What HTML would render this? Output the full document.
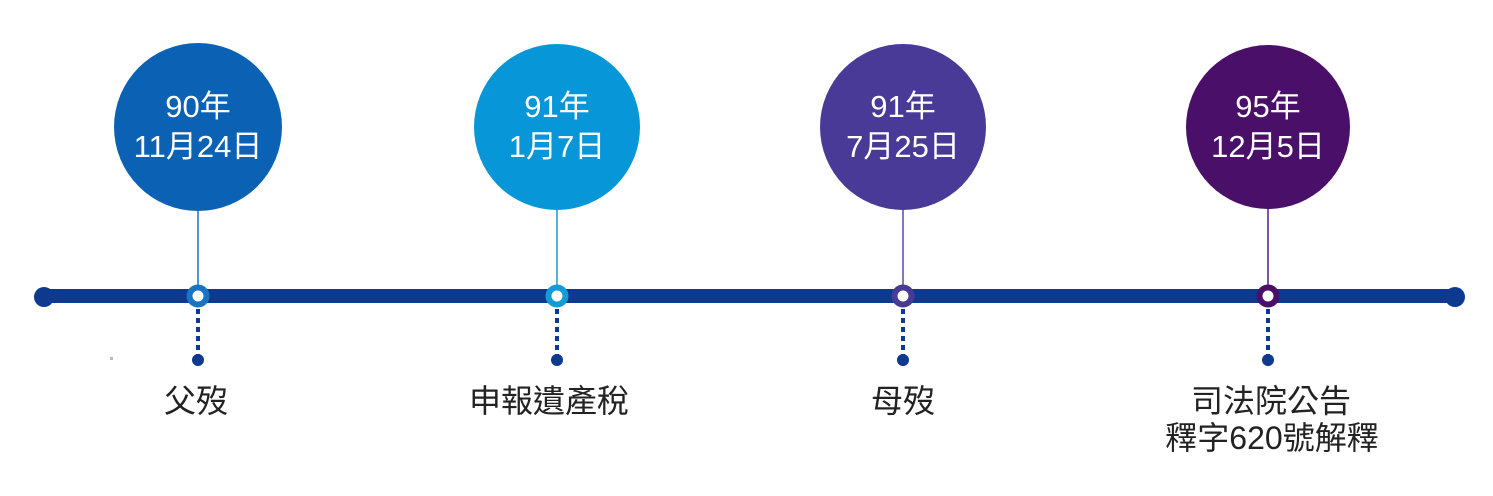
<!DOCTYPE html>
<html><head><meta charset="utf-8"><style>
html,body{margin:0;padding:0;background:#fff;}
text{font-family:"Liberation Sans","Noto Sans CJK TC",sans-serif;}
</style></head><body>
<svg width="1493" height="491" viewBox="0 0 1493 491" xmlns="http://www.w3.org/2000/svg">
<rect width="1493" height="491" fill="#fff"/>
<line x1="44" y1="296" x2="1455" y2="296" stroke="#0d3a8e" stroke-width="14"/>
<circle cx="44" cy="297" r="10" fill="#0d3a8e"/>
<circle cx="1455" cy="297" r="10" fill="#0d3a8e"/>
<rect x="110" y="357" width="3" height="3" fill="#bbb"/>
<g>
<line x1="198" y1="200" x2="198" y2="290" stroke="#1f6fc0" stroke-width="1.5"/>
<circle cx="198" cy="127" r="84" fill="#0b62b5"/>
<circle cx="198" cy="296" r="8.5" fill="#fff" stroke="#1a74c6" stroke-width="6"/>
<line x1="198" y1="309" x2="198" y2="356" stroke="#0d3a8e" stroke-width="4" stroke-dasharray="5,4"/>
<circle cx="198" cy="360" r="6" fill="#0d3a8e"/>
<text x="198" y="117" font-size="31" fill="#fff" text-anchor="middle">90年</text>
<text x="198" y="157" font-size="31" fill="#fff" text-anchor="middle">11月24日</text>
<text x="196" y="412" font-size="32" fill="#222" text-anchor="middle">父歿</text>
</g>
<g>
<line x1="557" y1="200" x2="557" y2="290" stroke="#1a9ad6" stroke-width="1.5"/>
<circle cx="557" cy="127" r="83" fill="#0796d8"/>
<circle cx="557" cy="296" r="8.5" fill="#fff" stroke="#139bd8" stroke-width="6"/>
<line x1="557" y1="309" x2="557" y2="356" stroke="#0d3a8e" stroke-width="4" stroke-dasharray="5,4"/>
<circle cx="557" cy="360" r="6" fill="#0d3a8e"/>
<text x="557" y="117" font-size="31" fill="#fff" text-anchor="middle">91年</text>
<text x="557" y="157" font-size="31" fill="#fff" text-anchor="middle">1月7日</text>
<text x="549" y="412" font-size="32" fill="#222" text-anchor="middle">申報遺產稅</text>
</g>
<g>
<line x1="903" y1="200" x2="903" y2="290" stroke="#5a4aa2" stroke-width="1.5"/>
<circle cx="903" cy="127" r="83" fill="#4a3a98"/>
<circle cx="903" cy="296" r="8.5" fill="#fff" stroke="#4a3a98" stroke-width="6"/>
<line x1="903" y1="309" x2="903" y2="356" stroke="#0d3a8e" stroke-width="4" stroke-dasharray="5,4"/>
<circle cx="903" cy="360" r="6" fill="#0d3a8e"/>
<text x="903" y="117" font-size="31" fill="#fff" text-anchor="middle">91年</text>
<text x="903" y="157" font-size="31" fill="#fff" text-anchor="middle">7月25日</text>
<text x="903" y="412" font-size="32" fill="#222" text-anchor="middle">母歿</text>
</g>
<g>
<line x1="1268" y1="200" x2="1268" y2="290" stroke="#5a1a78" stroke-width="1.5"/>
<circle cx="1268" cy="127" r="82" fill="#4a0f68"/>
<circle cx="1268" cy="296" r="8.5" fill="#fff" stroke="#4a0f68" stroke-width="6"/>
<line x1="1268" y1="309" x2="1268" y2="356" stroke="#0d3a8e" stroke-width="4" stroke-dasharray="5,4"/>
<circle cx="1268" cy="360" r="6" fill="#0d3a8e"/>
<text x="1268" y="117" font-size="31" fill="#fff" text-anchor="middle">95年</text>
<text x="1268" y="157" font-size="31" fill="#fff" text-anchor="middle">12月5日</text>
<text x="1271" y="412" font-size="32" fill="#222" text-anchor="middle">司法院公告</text>
<text x="1272" y="449" font-size="32" fill="#222" text-anchor="middle">釋字620號解釋</text>
</g>
</svg>
</body></html>
